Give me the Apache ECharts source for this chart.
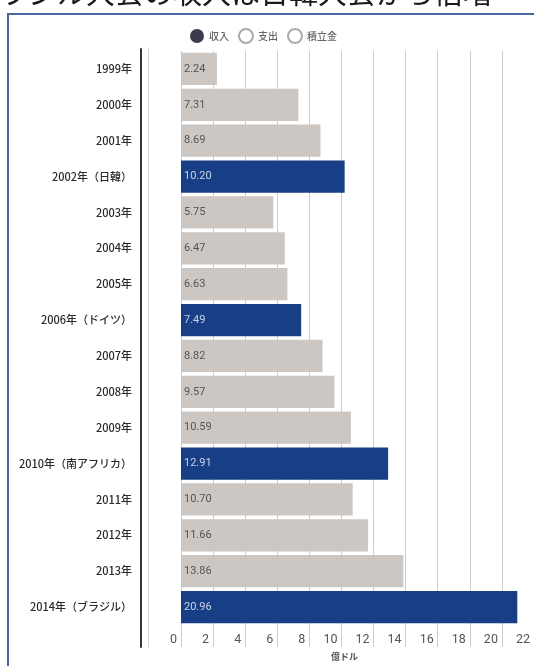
<!DOCTYPE html>
<html>
<head>
<meta charset="utf-8">
<script src="https://cdn.jsdelivr.net/npm/echarts@6/dist/echarts.min.js"></script>
<style>
html,body{margin:0;padding:0;background:#fff;overflow:hidden;}
#frame{position:absolute;left:7px;top:13px;width:600px;height:700px;border:2px solid #46679f;box-sizing:border-box;}
#chart{position:absolute;left:0;top:0;width:534px;height:666px;}
</style>
</head>
<body>
<div id="frame"></div>
<div id="chart"></div>
<script>
const titleText = 'ブラジル大会の収入は日韓大会から倍増';
const legendNames = ['収入', '支出', '積立金'];
const categories = ['1999年','2000年','2001年','2002年（日韓）','2003年','2004年','2005年','2006年（ドイツ）','2007年','2008年','2009年','2010年（南アフリカ）','2011年','2012年','2013年','2014年（ブラジル）'];
const income = [2.24,7.31,8.69,10.20,5.75,6.47,6.63,7.49,8.82,9.57,10.59,12.91,10.70,11.66,13.86,20.96];
const hostYears = ['2002年（日韓）','2006年（ドイツ）','2010年（南アフリカ）','2014年（ブラジル）'];
const xMin = 0, xMax = 22, xStep = 2;
const xName = '億ドル';

const GRAY = '#cdc7c3', BLUE = '#183f86';
const chart = echarts.init(document.getElementById('chart'));
const barData = income.map((v, i) => {
  const host = hostYears.includes(categories[i]);
  return {
    value: v,
    itemStyle: { color: host ? BLUE : GRAY },
    label: { color: host ? '#c9d2e6' : '#555' }
  };
});
chart.setOption({
  animation: false,
  title: {
    text: titleText, left: -30, top: -22, padding: 0,
    textStyle: { fontSize: 29, fontWeight: 'normal', color: '#1a1a1a', fontFamily: 'Noto Sans CJK JP' }
  },
  legend: {
    data: legendNames, left: 185, top: 23, icon: 'circle',
    itemWidth: 14, itemHeight: 14, itemGap: 9,
    textStyle: { fontSize: 10, color: '#666', fontWeight: 500, fontFamily: 'Noto Sans CJK JP' }
  },
  grid: [
    { left: 181, right: -4.5, top: 51, bottom: 40 },
    { left: 141, width: 7, top: 49, bottom: 19 }
  ],
  xAxis: [
    {
      type: 'value', gridIndex: 0, min: xMin, max: xMax, interval: xStep,
      name: xName, nameLocation: 'middle', nameGap: 27,
      nameTextStyle: { fontSize: 9, color: '#555', fontWeight: 'bold', fontFamily: 'Noto Sans CJK JP', padding: [0, 26, 0, 0] },
      axisLine: { show: false },
      axisTick: { show: true, length: 22, lineStyle: { color: '#cccccc' } },
      axisLabel: { align: 'right', padding: [0, 4, 0, 0], margin: 8, fontSize: 12.5, color: '#555', fontFamily: 'Roboto' },
      splitLine: { show: true, lineStyle: { color: '#cccccc', width: 1 } }
    },
    { type: 'value', gridIndex: 1, show: false }
  ],
  yAxis: [
    {
      type: 'category', gridIndex: 0, data: categories, inverse: true, offset: 40,
      axisLine: { show: false }, axisTick: { show: false },
      axisLabel: { margin: 9, fontSize: 11, color: '#2a2a2a', fontWeight: 500, fontFamily: 'Noto Sans CJK JP' }
    },
    {
      type: 'value', gridIndex: 1, position: 'left',
      axisLine: { show: true, lineStyle: { color: '#333', width: 2 } },
      axisTick: { show: false }, axisLabel: { show: false }, splitLine: { show: false }
    },
    {
      type: 'value', gridIndex: 1, position: 'right',
      axisLine: { show: true, lineStyle: { color: '#d0d0d0', width: 1 } },
      axisTick: { show: false }, axisLabel: { show: false }, splitLine: { show: false }
    }
  ],
  series: [
    {
      name: legendNames[0], type: 'bar', stack: 'all', xAxisIndex: 0, yAxisIndex: 0,
      data: barData, barCategoryGap: '10%',
      itemStyle: { color: '#3d3a4e' },
      label: {
        show: true, position: 'insideLeft', distance: 3, fontSize: 11, fontFamily: 'Roboto',
        formatter: p => p.value.toFixed(2)
      }
    },
    { name: legendNames[1], type: 'bar', stack: 'all', xAxisIndex: 0, yAxisIndex: 0, data: [], itemStyle: { color: '#fff', borderColor: '#aaa', borderWidth: 1 } },
    { name: legendNames[2], type: 'bar', stack: 'all', xAxisIndex: 0, yAxisIndex: 0, data: [], itemStyle: { color: '#fff', borderColor: '#aaa', borderWidth: 1 } }
  ]
});
</script>
</body>
</html>
